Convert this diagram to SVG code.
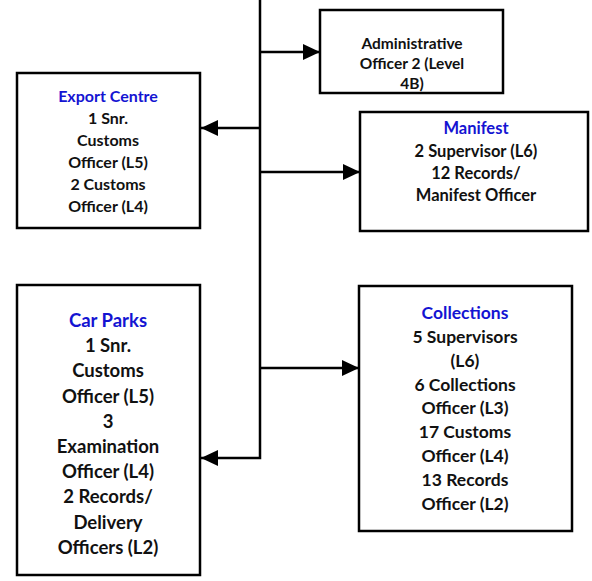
<svg xmlns="http://www.w3.org/2000/svg" width="592" height="581" viewBox="0 0 592 581">
<style>
.box{fill:#fff;stroke:#000;stroke-width:2.5}
.ln{fill:none;stroke:#000;stroke-width:2.5}
text{font-family:Lato,"Open Sans","Liberation Sans",sans-serif;font-weight:bold;fill:#111;text-anchor:middle}
.t{fill:#1414d2}
</style>
<defs>
<marker id="ah" markerUnits="userSpaceOnUse" markerWidth="18" markerHeight="18" refX="17" refY="8" orient="auto">
<path d="M0,0 L17,8 L0,16 Z" fill="#000"/>
</marker>
</defs>
<rect width="592" height="581" fill="#fff"/>
<g id="connectors">
<path class="ln" d="M260,0 V458 H201" marker-end="url(#ah)"/>
<path class="ln" d="M260,52 H320" marker-end="url(#ah)"/>
<path class="ln" d="M260,128 H201" marker-end="url(#ah)"/>
<path class="ln" d="M260,172 H360" marker-end="url(#ah)"/>
<path class="ln" d="M260,368 H359" marker-end="url(#ah)"/>
</g>
<g id="admin">
<rect class="box" x="320" y="10" width="183" height="83"/>
<g font-size="15.5">
<text x="412" y="48.5">Administrative</text>
<text x="412" y="68.5">Officer 2 (Level</text>
<text x="412" y="88.5">4B)</text>
</g>
</g>
<g id="export">
<rect class="box" x="17" y="73" width="183" height="155"/>
<g font-size="16">
<text class="t" x="108" y="102">Export Centre</text>
<text x="108" y="124">1 Snr.</text>
<text x="108" y="146">Customs</text>
<text x="108" y="168">Officer (L5)</text>
<text x="108" y="190">2 Customs</text>
<text x="108" y="212">Officer (L4)</text>
</g>
</g>
<g id="manifest">
<rect class="box" x="360" y="112" width="228" height="119"/>
<g font-size="16.5">
<text class="t" x="476" y="134">Manifest</text>
<text x="476" y="157">2 Supervisor (L6)</text>
<text x="476" y="179">12 Records/</text>
<text x="476" y="201">Manifest Officer</text>
</g>
</g>
<g id="carparks">
<rect class="box" x="17" y="285" width="183" height="290"/>
<g font-size="18.5">
<text class="t" x="108" y="326.5">Car Parks</text>
<text x="108" y="351.5">1 Snr.</text>
<text x="108" y="376.5">Customs</text>
<text x="108" y="402.5">Officer (L5)</text>
<text x="108" y="427.5">3</text>
<text x="108" y="452.5">Examination</text>
<text x="108" y="477.5">Officer (L4)</text>
<text x="108" y="502.5">2 Records/</text>
<text x="108" y="528.5">Delivery</text>
<text x="108" y="553.5">Officers (L2)</text>
</g>
</g>
<g id="collections">
<rect class="box" x="359" y="286" width="213" height="245"/>
<g font-size="17.5">
<text class="t" x="465" y="319">Collections</text>
<text x="465" y="343">5 Supervisors</text>
<text x="465" y="367">(L6)</text>
<text x="465" y="391">6 Collections</text>
<text x="465" y="414">Officer (L3)</text>
<text x="465" y="438">17 Customs</text>
<text x="465" y="462">Officer (L4)</text>
<text x="465" y="486">13 Records</text>
<text x="465" y="510">Officer (L2)</text>
</g>
</g>
</svg>
